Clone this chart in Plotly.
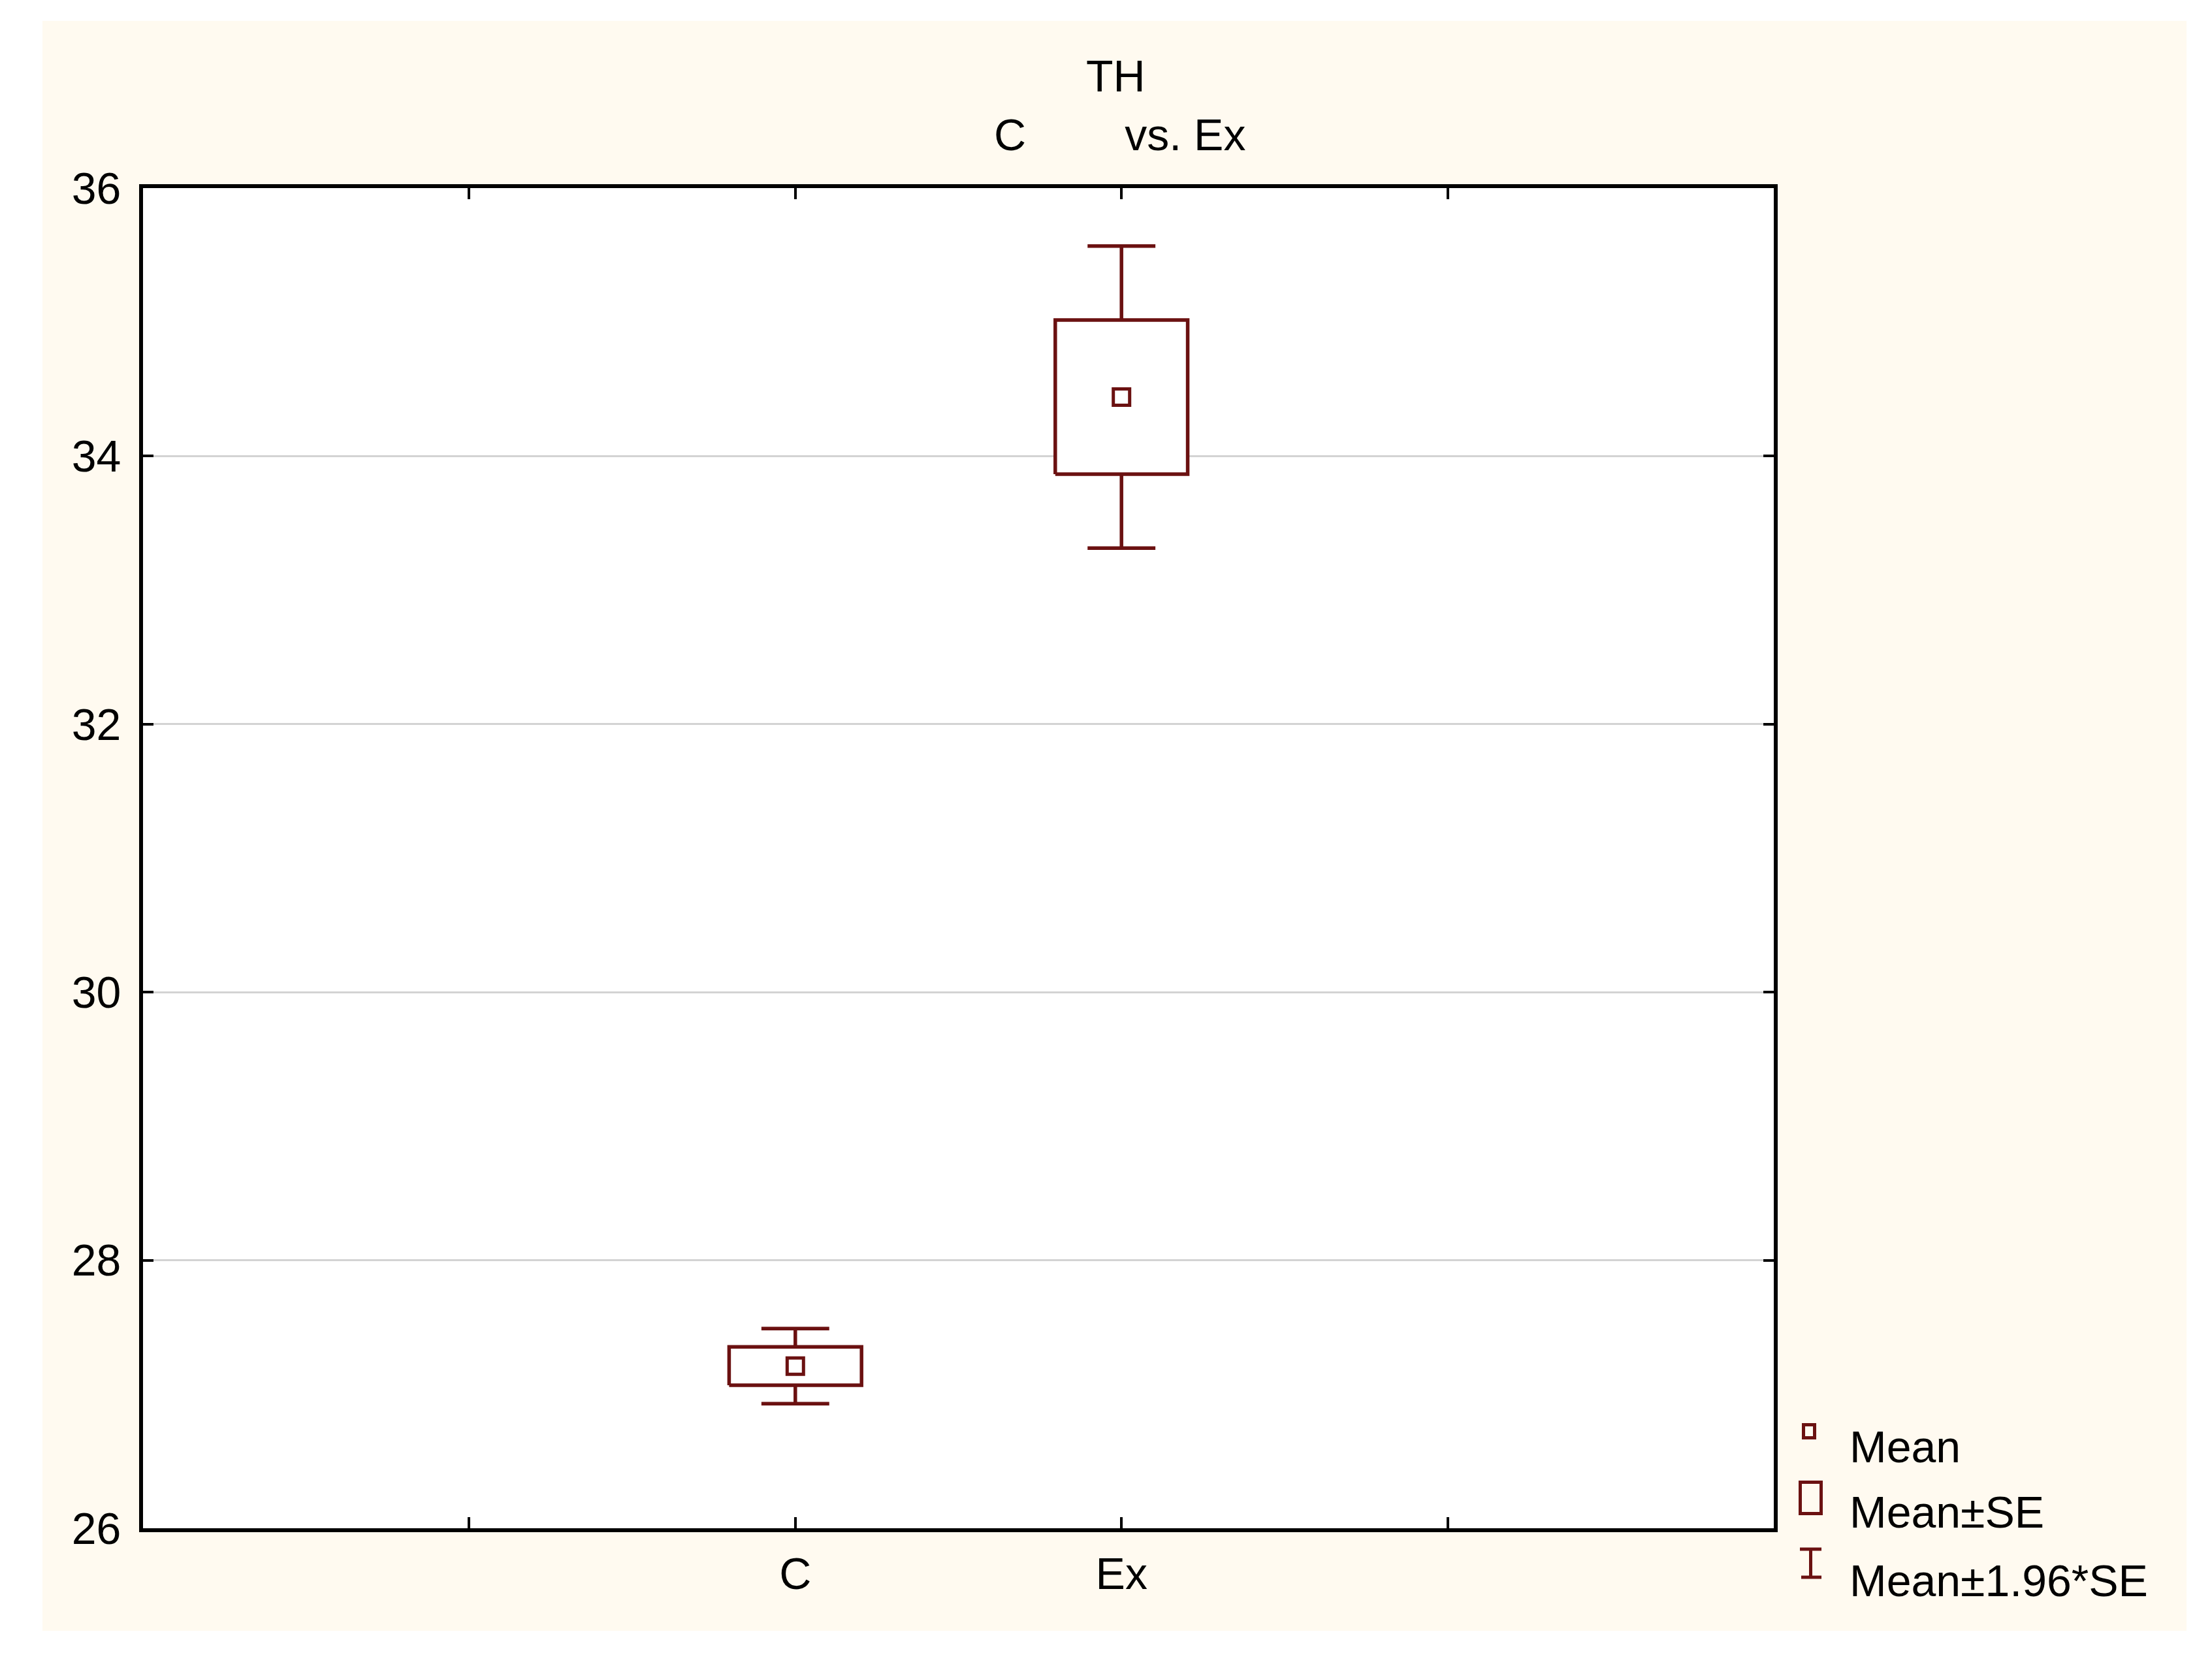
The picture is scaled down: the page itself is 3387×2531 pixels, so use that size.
import plotly.graph_objects as go

# ---------------- data ----------------
groups = ["C", "Ex"]
group_pos = [2, 3]
means = [27.21, 34.44]
se = [0.143, 0.575]
ci_mult = 1.96

x_tickvals = [1, 2, 3, 4]
x_ticktext = ["", "C", "Ex", ""]
y_tickvals = [26, 28, 30, 32, 34, 36]
legend_labels = ["Mean", "Mean\u00b1SE", "Mean\u00b11.96*SE"]
title_lines = ["TH", "C" + "\u00a0" * 8 + "vs. Ex"]

# ---------------- styles / layout geometry ----------------
W, H = 3387, 2531
FRAME_LW = 6
HALF = FRAME_LW / 2
# plot-area edges (page pixels); frame lines are drawn just outside them
L, R, T, B = 216 + HALF, 2719 - HALF, 285 + HALF, 2343 - HALF
OFF = 8                                # browser body margin
MAROON = "#6b1111"
CREAM = "#fffaf0"
GRID = "#d3d3d3"
FONT = "Liberation Sans, Arial, sans-serif"
FS = 68
LW = 5.5
box_half = 0.203
cap_half = 0.104


def px(x):
    return (x - L) / (R - L)


def py(y):
    return (B - y) / (B - T)


fig = go.Figure()

# whiskers (mean +- 1.96*SE)
for p, m, s in zip(group_pos, means, se):
    lo, hi = m - ci_mult * s, m + ci_mult * s
    fig.add_trace(go.Scatter(
        x=[p, p, None, p - cap_half, p + cap_half, None, p - cap_half, p + cap_half],
        y=[lo, hi, None, hi, hi, None, lo, lo],
        mode="lines", line=dict(color=MAROON, width=LW),
        hoverinfo="skip", showlegend=False))

# boxes (mean +- SE)
for p, m, s in zip(group_pos, means, se):
    fig.add_trace(go.Scatter(
        x=[p - box_half, p + box_half, p + box_half, p - box_half, p - box_half],
        y=[m - s, m - s, m + s, m + s, m - s],
        mode="lines", fill="toself", fillcolor="white",
        line=dict(color=MAROON, width=LW),
        hoverinfo="skip", showlegend=False))

# means
fig.add_trace(go.Scatter(
    x=group_pos, y=means, mode="markers",
    marker=dict(symbol="square-open", size=25, color=MAROON,
                line=dict(color=MAROON, width=5)),
    text=groups, showlegend=False))

shapes = [
    # cream background panel
    dict(type="rect", xref="paper", yref="paper", layer="below",
         x0=px(65), x1=px(3348), y0=py(2497), y1=py(32),
         fillcolor=CREAM, line=dict(width=0)),
    # white plotting area
    dict(type="rect", xref="paper", yref="paper", layer="below",
         x0=0, x1=1, y0=0, y1=1, fillcolor="white", line=dict(width=0)),
    # legend symbols
    dict(type="rect", xref="paper", yref="paper",
         x0=px(2761.5), x1=px(2778.5), y0=py(2201.5), y1=py(2181.5),
         line=dict(color=MAROON, width=5)),
    dict(type="rect", xref="paper", yref="paper",
         x0=px(2756.5), x1=px(2788.5), y0=py(2317.5), y1=py(2269.5),
         line=dict(color=MAROON, width=5)),
    dict(type="line", xref="paper", yref="paper",
         x0=px(2756), x1=px(2789), y0=py(2372), y1=py(2372),
         line=dict(color=MAROON, width=5)),
    dict(type="line", xref="paper", yref="paper",
         x0=px(2758), x1=px(2789), y0=py(2415), y1=py(2415),
         line=dict(color=MAROON, width=5)),
    dict(type="line", xref="paper", yref="paper",
         x0=px(2772.5), x1=px(2772.5), y0=py(2415), y1=py(2372),
         line=dict(color=MAROON, width=5)),
]

annotations = [
    dict(text=title_lines[0], xref="paper", yref="paper", x=px(1708), y=py(115.5),
         xanchor="center", yanchor="middle", showarrow=False,
         font=dict(family=FONT, size=FS, color="black")),
    dict(text=title_lines[1], xref="paper", yref="paper", x=px(1714.5), y=py(206),
         xanchor="center", yanchor="middle", showarrow=False,
         font=dict(family=FONT, size=FS, color="black")),
]
for lab, yc in zip(legend_labels, [2215, 2315, 2420]):
    annotations.append(dict(text=lab, xref="paper", yref="paper", x=px(2830), y=py(yc),
                            xanchor="left", yanchor="middle", showarrow=False,
                            font=dict(family=FONT, size=FS, color="black")))

fig.update_layout(
    width=W, height=H,
    margin=dict(l=L - OFF, r=W - R + OFF, t=T - OFF, b=H - B + OFF, pad=0),
    paper_bgcolor="white", plot_bgcolor="white",
    showlegend=False,
    font=dict(family=FONT, size=FS, color="black"),
    shapes=shapes, annotations=annotations,
    xaxis=dict(range=[0, 5], tickmode="array", tickvals=x_tickvals, ticktext=x_ticktext,
               ticks="inside", ticklen=17, tickwidth=4, tickcolor="black",
               showline=True, linewidth=FRAME_LW, linecolor="black", mirror="ticks",
               showgrid=False, zeroline=False, ticklabelstandoff=5,
               tickfont=dict(family=FONT, size=FS, color="black")),
    yaxis=dict(range=[26, 36], tickmode="array", tickvals=y_tickvals,
               ticks="inside", ticklen=16, tickwidth=4, tickcolor="black",
               showline=True, linewidth=FRAME_LW, linecolor="black", mirror="ticks",
               showgrid=True, gridcolor=GRID, gridwidth=3, zeroline=False,
               ticklabelstandoff=14,
               tickfont=dict(family=FONT, size=FS, color="black")),
)

fig.write_html("out.html")
